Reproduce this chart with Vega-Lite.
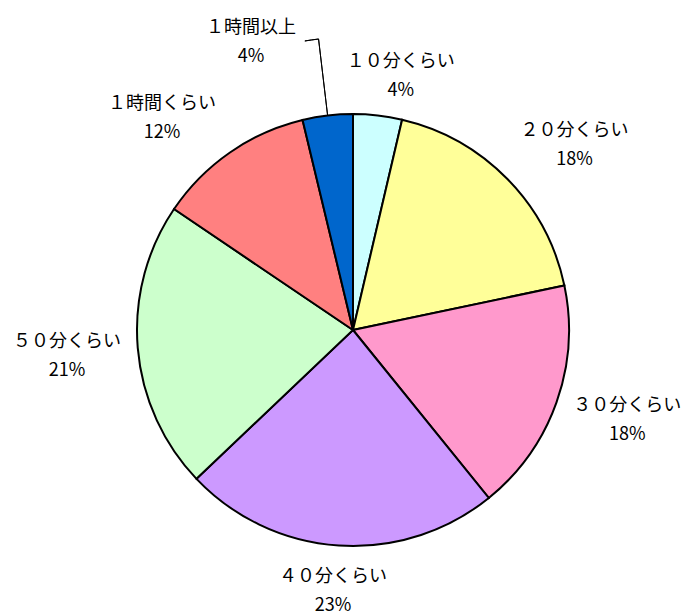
{
  "$schema": "https://vega.github.io/schema/vega-lite/v6.json",
  "width": 706,
  "height": 660,
  "autosize": "none",
  "padding": 0,
  "background": "white",
  "config": {"view": {"stroke": null}},
  "data": {"values": [
    {"n": 1, "cat": "１０分くらい", "value": 3.65, "label": "１０分くらい\n4%"},
    {"n": 2, "cat": "２０分くらい", "value": 18.05, "label": "２０分くらい\n18%"},
    {"n": 3, "cat": "３０分くらい", "value": 17.48, "label": "３０分くらい\n18%"},
    {"n": 4, "cat": "４０分くらい", "value": 23.72, "label": "４０分くらい\n23%"},
    {"n": 5, "cat": "５０分くらい", "value": 21.56, "label": "５０分くらい\n21%"},
    {"n": 6, "cat": "１時間くらい", "value": 11.79, "label": "１時間くらい\n12%"},
    {"n": 7, "cat": "１時間以上", "value": 3.75, "label": "１時間以上\n4%"}
  ]},
  "encoding": {
    "theta": {"field": "value", "type": "quantitative", "stack": true},
    "order": {"field": "n", "type": "quantitative"}
  },
  "layer": [
    {
      "mark": {"type": "arc", "radius": 216, "stroke": "black", "strokeWidth": 2},
      "encoding": {
        "color": {
          "field": "cat", "type": "nominal", "legend": null,
          "scale": {
            "domain": ["１０分くらい", "２０分くらい", "３０分くらい", "４０分くらい", "５０分くらい", "１時間くらい", "１時間以上"],
            "range": ["#CCFFFF", "#FFFF99", "#FF99CC", "#CC99FF", "#CCFFCC", "#FF8080", "#0066CC"]
          }
        }
      }
    },
    {
      "mark": {"type": "arc", "radius": 293, "radius2": 216, "padAngle": 0.6, "fillOpacity": 0, "stroke": "black", "strokeWidth": 1},
      "encoding": {
        "strokeOpacity": {"condition": {"test": "datum.cat === '１時間以上'", "value": 1}, "value": 0}
      }
    },
    {
      "mark": {"type": "arc", "radius": 293, "radius2": 293, "padAngle": 0.133, "thetaOffset": -0.0236, "fillOpacity": 0, "stroke": "black", "strokeWidth": 1},
      "encoding": {
        "strokeOpacity": {"condition": {"test": "datum.cat === '１時間以上'", "value": 1}, "value": 0}
      }
    },
    {
      "mark": {"type": "text", "radius": 259.5, "dx": 18, "dy": -10, "lineBreak": "\n", "lineHeight": 29, "font": "Noto Sans CJK JP", "fontSize": 18, "align": "center", "baseline": "middle", "color": "black"},
      "encoding": {"text": {"field": "label"}, "opacity": {"condition": {"test": "datum.cat === '１０分くらい'", "value": 1}, "value": 0}}
    },
    {
      "mark": {"type": "text", "radius": 289, "dx": 15, "dy": 3, "lineBreak": "\n", "lineHeight": 29, "font": "Noto Sans CJK JP", "fontSize": 18, "align": "center", "baseline": "middle", "color": "black"},
      "encoding": {"text": {"field": "label"}, "opacity": {"condition": {"test": "datum.cat === '２０分くらい'", "value": 1}, "value": 0}}
    },
    {
      "mark": {"type": "text", "radius": 288, "dx": 3, "dy": -21, "lineBreak": "\n", "lineHeight": 29, "font": "Noto Sans CJK JP", "fontSize": 18, "align": "center", "baseline": "middle", "color": "black"},
      "encoding": {"text": {"field": "label"}, "opacity": {"condition": {"test": "datum.cat === '３０分くらい'", "value": 1}, "value": 0}}
    },
    {
      "mark": {"type": "text", "radius": 261, "dx": -3, "dy": -13, "lineBreak": "\n", "lineHeight": 29, "font": "Noto Sans CJK JP", "fontSize": 18, "align": "center", "baseline": "middle", "color": "black"},
      "encoding": {"text": {"field": "label"}, "opacity": {"condition": {"test": "datum.cat === '４０分くらい'", "value": 1}, "value": 0}}
    },
    {
      "mark": {"type": "text", "radius": 287, "dx": 0, "dy": -12, "lineBreak": "\n", "lineHeight": 29, "font": "Noto Sans CJK JP", "fontSize": 18, "align": "center", "baseline": "middle", "color": "black"},
      "encoding": {"text": {"field": "label"}, "opacity": {"condition": {"test": "datum.cat === '５０分くらい'", "value": 1}, "value": 0}}
    },
    {
      "mark": {"type": "text", "radius": 286, "dx": -28, "dy": 9, "lineBreak": "\n", "lineHeight": 29, "font": "Noto Sans CJK JP", "fontSize": 18, "align": "center", "baseline": "middle", "color": "black"},
      "encoding": {"text": {"field": "label"}, "opacity": {"condition": {"test": "datum.cat === '１時間くらい'", "value": 1}, "value": 0}}
    },
    {
      "mark": {"type": "text", "radius": 306, "dx": -66, "dy": 2, "lineBreak": "\n", "lineHeight": 29, "font": "Noto Sans CJK JP", "fontSize": 18, "align": "center", "baseline": "middle", "color": "black"},
      "encoding": {"text": {"field": "label"}, "opacity": {"condition": {"test": "datum.cat === '１時間以上'", "value": 1}, "value": 0}}
    }
  ]
}
